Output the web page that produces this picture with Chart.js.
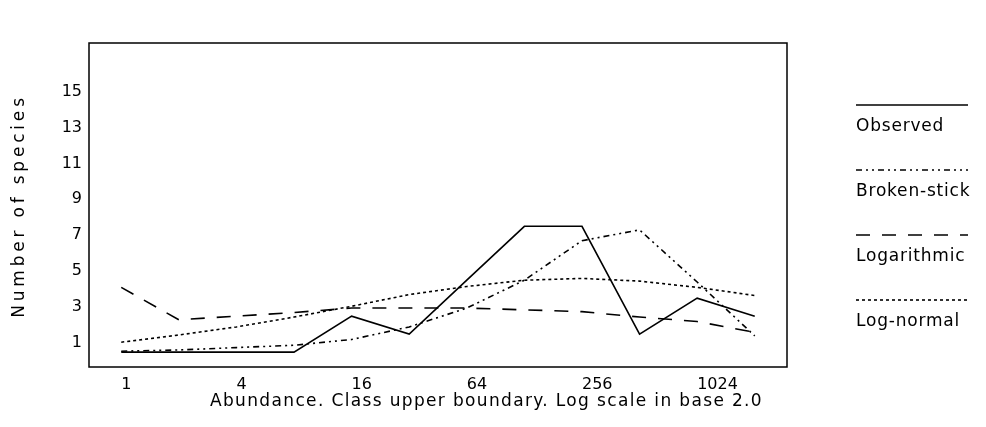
<!DOCTYPE html>
<html>
<head>
<meta charset="utf-8">
<script src="https://cdn.jsdelivr.net/npm/chart.js@4.4.0/dist/chart.umd.min.js"></script>
<style>
  html, body { margin: 0; padding: 0; background: #fff; }
  #wrap { width: 986px; height: 427px; }
</style>
</head>
<body>
<div id="wrap"><canvas id="myChart" width="986" height="427"></canvas></div>
<script>
// octave classes (log2 of class upper boundary)
const classes = [0, 1, 2, 3, 4, 5, 6, 7, 8, 9, 10, 11];
const xTickValues = [0, 2, 4, 6, 8, 10];
const xTickLabels = ['1', '4', '16', '64', '256', '1024'];
const yTickValues = [1, 3, 5, 7, 9, 11, 13, 15];

const observed    = [0.5, 0.5, 0.5, 0.5, 2.5, 1.5, 4.5, 7.5, 7.5, 1.5, 3.5, 2.5];
const brokenStick = [0.55, 0.62, 0.75, 0.88, 1.2, 1.9, 2.95, 4.5, 6.7, 7.3, 4.4, 1.4];
const logarithmic = [4.1, 2.3, 2.5, 2.7, 2.95, 2.95, 2.95, 2.85, 2.75, 2.45, 2.2, 1.6];
const logNormal   = [1.05, 1.45, 1.9, 2.45, 3.05, 3.7, 4.15, 4.5, 4.6, 4.45, 4.1, 3.65];

const FONT = 'DejaVu Sans';

function toPoints(values) {
    return values.map((v, i) => ({ x: classes[i], y: v }));
}

const series = [
    { label: 'Observed', data: observed, dash: [] },
    { label: 'Broken-stick', data: brokenStick, dash: [6, 4, 2, 4, 2, 4] },
    { label: 'Logarithmic', data: logarithmic, dash: [14, 12] },
    { label: 'Log-normal', data: logNormal, dash: [3, 3] }
];

// frame, axis titles and the side legend
const decorations = {
    id: 'decorations',
    afterDraw(chart) {
        const ctx = chart.ctx;
        const a = chart.chartArea;
        ctx.save();
        ctx.strokeStyle = '#000';
        ctx.lineWidth = 1.5;
        ctx.setLineDash([]);
        ctx.strokeRect(a.left, a.top, a.right - a.left, a.bottom - a.top);

        ctx.fillStyle = '#000';
        ctx.font = '17px "' + FONT + '"';
        ctx.textBaseline = 'middle';

        // x title
        ctx.letterSpacing = '1.35px';
        ctx.textAlign = 'left';
        ctx.fillText('Abundance. Class upper boundary. Log scale in base 2.0', 210, 402);

        // y title
        ctx.save();
        ctx.translate(20, 206);
        ctx.rotate(-Math.PI / 2);
        ctx.textAlign = 'center';
        ctx.letterSpacing = '3.8px';
        ctx.fillText('Number of species', 0, 0);
        ctx.restore();

        // legend
        ctx.letterSpacing = '0.8px';
        series.forEach((s, i) => {
            const ly = 105 + i * 65;
            ctx.beginPath();
            ctx.setLineDash(s.dash);
            ctx.lineWidth = 1.6;
            ctx.moveTo(856, ly);
            ctx.lineTo(968, ly);
            ctx.stroke();
            ctx.setLineDash([]);
            ctx.textAlign = 'left';
            ctx.fillText(s.label, 856, ly + 22);
        });
        ctx.restore();
    }
};

const ctx = document.getElementById('myChart').getContext('2d');
const chart = new Chart(ctx, {
    type: 'line',
    data: {
        datasets: series.map(s => ({
            label: s.label,
            data: toPoints(s.data),
            borderColor: '#000',
            borderWidth: 1.6,
            borderDash: s.dash,
            pointRadius: 0,
            tension: 0,
            fill: false
        }))
    },
    options: {
        responsive: false,
        animation: false,
        devicePixelRatio: 1,
        layout: { padding: { left: 0, right: 199, top: 43, bottom: 0 } },
        plugins: {
            legend: { display: false },
            tooltip: { enabled: false }
        },
        scales: {
            x: {
                type: 'linear',
                min: -0.56,
                max: 11.56,
                grid: { display: false, drawTicks: false },
                border: { display: false },
                afterBuildTicks: (scale) => {
                    scale.ticks = xTickValues.map(v => ({ value: v }));
                },
                afterFit: (scale) => { scale.height = 60; },
                ticks: {
                    align: 'start',
                    maxRotation: 0,
                    padding: 8,
                    color: '#000',
                    font: { family: FONT, size: 16 },
                    callback: (v) => xTickLabels[xTickValues.indexOf(v)]
                }
            },
            y: {
                min: -0.33,
                max: 17.7,
                grid: { display: false, drawTicks: false },
                border: { display: false },
                afterBuildTicks: (scale) => {
                    scale.ticks = yTickValues.map(v => ({ value: v }));
                },
                afterFit: (scale) => { scale.width = 89; },
                ticks: {
                    padding: 7,
                    color: '#000',
                    font: { family: FONT, size: 16 }
                }
            }
        }
    },
    plugins: [decorations]
});
</script>
</body>
</html>
